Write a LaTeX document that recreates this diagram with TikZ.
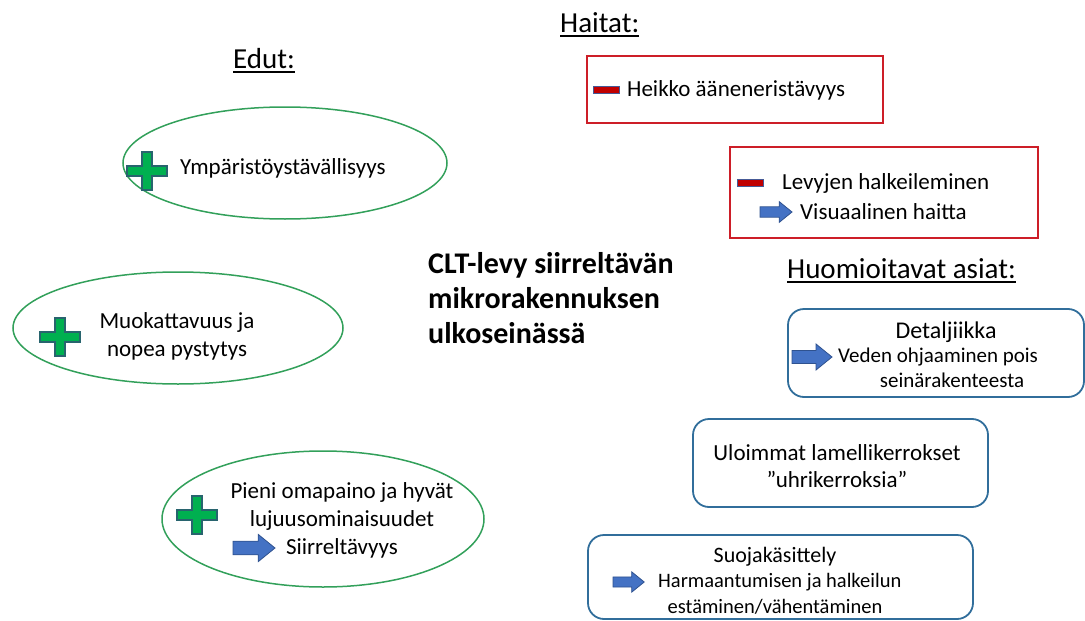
\documentclass[tikz,border=0pt]{standalone}
\usepackage{fontspec}
\setmainfont{Carlito}
\usepackage{tikz}

\definecolor{edgreen}{RGB}{50,160,90}
\definecolor{plusfill}{RGB}{0,176,80}
\definecolor{plusline}{RGB}{40,100,110}
\definecolor{haitred}{RGB}{205,30,40}
\definecolor{minusfill}{RGB}{192,0,0}
\definecolor{minusline}{RGB}{70,90,150}
\definecolor{noteblue}{RGB}{49,110,155}
\definecolor{arrowfill}{RGB}{68,114,196}
\definecolor{arrowline}{RGB}{47,82,143}

\tikzset{
	txt/.style={inner sep=0pt, font=\fontsize{23}{28}\selectfont},
	subtxt/.style={inner sep=0pt, font=\fontsize{20.5}{24}\selectfont},
	title/.style={inner sep=0pt, font=\fontsize{29}{34}\selectfont},
	headline/.style={line width=1.3pt},
	edutellipse/.style={draw=edgreen, line width=1.5pt},
	haittabox/.style={draw=haitred, line width=1.5pt},
	notebox/.style={draw=noteblue, line width=1.8pt, rounded corners=16pt},
	plussign/.pic={
		\filldraw[fill=plusfill, draw=plusline, line width=1.2pt]
		(-5,-19) -- (5,-19) -- (5,-5) -- (20,-5) -- (20,5) -- (5,5) -- (5,19)
		-- (-5,19) -- (-5,5) -- (-20,5) -- (-20,-5) -- (-5,-5) -- cycle;
	},
	minussign/.pic={
		\filldraw[fill=minusfill, draw=minusline, line width=1pt] (-13,-3.5) rectangle (13,3.5);
	},
	bluearrow/.pic={
		\filldraw[fill=arrowfill, draw=arrowline, line width=0.8pt]
		(0,-6.5) -- (24,-6.5) -- (24,-13) -- (40,0) -- (24,13) -- (24,6.5) -- (0,6.5) -- cycle;
	}
}

\begin{document}
\begin{tikzpicture}[x=1pt, y=-1pt]
	\useasboundingbox (0,0) rectangle (1085,621);

% draw titles
	\node[title, anchor=base west] (haitat) at (560,32) {Haitat:};
	\draw[headline] ([yshift=-4pt]haitat.base west) -- ([yshift=-4pt]haitat.base east);
	\node[title, anchor=base west] (edut) at (233,68) {Edut:};
	\draw[headline] ([yshift=-4pt]edut.base west) -- ([yshift=-4pt]edut.base east);
	\node[title, anchor=base west] (huom) at (787,278) {Huomioitavat asiat:};
	\draw[headline] ([yshift=-4pt]huom.base west) -- ([yshift=-4pt]huom.base east);

% main topic
	\node[inner sep=0pt, anchor=west, align=left, font=\fontsize{30}{35}\bfseries\selectfont] (clt) at (428,298)
	{CLT-levy siirreltävän\\mikrorakennuksen\\ulkoseinässä};

% edut: ellipses
	\draw[edutellipse] (285,163) ellipse [x radius=162, y radius=56];
	\pic at (147,171) {plussign};
	\node[txt, anchor=west] (ymp) at (180,168) {Ympäristöystävällisyys};

	\draw[edutellipse] (178,328) ellipse [x radius=165, y radius=56];
	\pic at (60,337) {plussign};
	\node[txt, align=center] (muok) at (177,336) {Muokattavuus ja\\nopea pystytys};

	\draw[edutellipse] (323,519) ellipse [x radius=161, y radius=68];
	\pic at (197,515) {plussign};
	\pic[scale=1.05] at (233,548) {bluearrow};
	\node[txt, align=center] (pieni) at (342,520) {Pieni omapaino ja hyvät\\lujuusominaisuudet\\Siirreltävyys};

% haitat: red boxes
	\draw[haittabox] (587,56) rectangle (883,123);
	\pic at (606,90) {minussign};
	\node[txt, anchor=west] (heikko) at (627,90) {Heikko ääneneristävyys};

	\draw[haittabox] (730,147) rectangle (1038,238);
	\pic at (750,183) {minussign};
	\node[txt, anchor=west] (levyt) at (782,183) {Levyjen halkeileminen};
	\pic[scale=0.8] at (760,212) {bluearrow};
	\node[txt, anchor=west] (visu) at (800,212) {Visuaalinen haitta};

% huomioitavat: rounded boxes
	\draw[notebox] (788,309) rectangle (1084,397);
	\node[txt, font=\fontsize{24}{28}\selectfont] (deta) at (946,332) {Detaljiikka};
	\pic at (792,357) {bluearrow};
	\node[subtxt, font=\fontsize{21}{24}\selectfont, anchor=west] (veden) at (838,357) {Veden ohjaaminen pois};
	\node[subtxt, font=\fontsize{21}{24}\selectfont] (seina) at (952,380) {seinärakenteesta};

	\draw[notebox] (693,419) rectangle (988,507);
	\node[txt, align=center, font=\fontsize{23}{27}\selectfont] (uloim) at (837,466) {Uloimmat lamellikerrokset\\”uhrikerroksia”};

	\draw[notebox] (588,535) rectangle (973,619);
	\node[txt, font=\fontsize{22}{26}\selectfont] (suoja) at (775,557) {Suojakäsittely};
	\pic[scale=0.78] at (613,582) {bluearrow};
	\node[subtxt, anchor=west] (harm) at (658,582) {Harmaantumisen ja halkeilun};
	\node[subtxt] (estam) at (775,607) {estäminen/vähentäminen};

\end{tikzpicture}
\end{document}
